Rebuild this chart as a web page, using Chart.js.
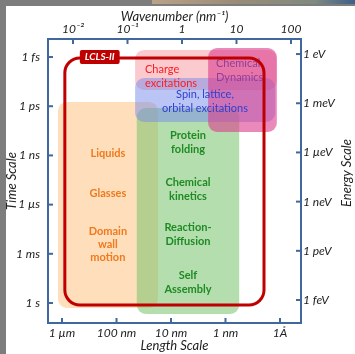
<!DOCTYPE html>
<html>
<head>
<meta charset="utf-8">
<script src="https://cdn.jsdelivr.net/npm/chart.js@4"></script>
<style>
  html, body { margin: 0; padding: 0; background: #fff; }
  #wrap { position: relative; width: 355px; height: 354px; overflow: hidden; }
  canvas { position: absolute; left: 0; top: 0; }
  .edge-left { position: absolute; left: 0; top: 0; width: 6px; height: 354px; background: #7d7d7d; }
  .edge-top { position: absolute; left: 0; top: 0; width: 355px; height: 6px; background: #7d7d7d; }
  .edge-photo { position: absolute; left: 152px; top: 0; width: 203px; height: 4px;
    background: linear-gradient(90deg, #b9a288, #9c8c78 40%, #7f8a80 80%, #3e5f8a); }
</style>
</head>
<body>
<div id="wrap">
  <canvas id="chart" width="355" height="354"></canvas>
  <div class="edge-left"></div>
  <div class="edge-top"></div>
  <div class="edge-photo"></div>
</div>
<script>
// Both axes are in decades: x = log10(q / nm^-1), y = log10(t / s)
const X_RANGE = [-2.459, 2.184];
const Y_RANGE = [-16.1, 1.22];

const wavenumberTicks = [-2, -1, 0, 1, 2];
const wavenumberLabels = ["10\u207B\u00B2", "10\u207B\u00B9", "1", "10", "100"];
const lengthNm = [1000, 100, 10, 1, 0.1];
const lengthLabels = ["1 \u00B5m", "100 nm", "10 nm", "1 nm", "1\u00C5"];
const timeTicks = [-15, -12, -9, -6, -3, 0];
const timeLabels = ["1 fs", "1 ps", "1 ns", "1 \u00B5s", "1 ms", "1 s"];
const energyEv = [1, 1e-3, 1e-6, 1e-9, 1e-12, 1e-15];
const energyLabels = ["1 eV", "1 meV", "1 \u00B5eV", "1 neV", "1 peV", "1 feV"];
const HBAR = 6.582e-16; // eV s

// science regions: wavenumber span and time span, in decades
const regionNames = ["soft matter", "biology", "charge", "spin", "chemistry"];
const regionQ = [[-2.275, -0.44], [-0.83, 1.05], [-0.86, 1.74], [-0.86, 1.71], [0.48, 1.74]];
const regionT = [[-12.26, 0.3], [-11.89, 0.67], [-15.43, -12.99], [-13.72, -11.04], [-15.55, -10.43]];

// LCLS-II reach
const lclsQ = [-2.15, 1.505];
const lclsT = [-14.94, 0.12];

const labelText = [
  ["Liquids"], ["Glasses"], ["Domain", "wall", "motion"],
  ["Protein", "folding"], ["Chemical", "kinetics"], ["Reaction-", "Diffusion"], ["Self", "Assembly"],
  ["Charge", "excitations"], ["Chemical", "Dynamics"], ["Spin, lattice,", "orbital excitations"],
];
const labelQ = [-1.36, -1.36, -1.36, 0.11, 0.11, 0.11, 0.11, -0.679, 0.624, 0.422];
const labelT = [-9.09, -6.71, -3.54, -9.82, -6.95, -4.15, -1.25, -13.84, -14.21, -12.32];
const labelRegion = [0, 0, 0, 1, 1, 1, 1, 2, 4, 3];

const AXIS = "#41679f";
const FONT = "Lato";
const regionFill = [
  "rgba(253, 190, 120, 0.5)",
  "rgba(120, 195, 110, 0.55)",
  "rgba(248, 150, 160, 0.5)",
  "rgba(120, 140, 235, 0.5)",
  "rgba(220, 60, 140, 0.6)",
];
const regionText = ["#f07a1e", "#1f8b24", "#ff1a1a", "#2d3fd0", "#8e3f9e"];
const regionWeight = ["bold", "bold", "normal", "normal", "normal"];
const regionAlign = ["center", "center", "left", "center", "left"];
const regionLine = [13, 14, 14, 14, 14];

function fixedTicks(values) {
  return (scale) => {
    scale.ticks = values.map((value) => ({ value }));
  };
}

function axis(position, range, values, labels, size, extra) {
  const vertical = position === "left" || position === "right";
  return {
    type: "linear",
    position,
    min: range[0],
    max: range[1],
    bounds: "data",
    reverse: vertical,
    afterBuildTicks: fixedTicks(values),
    afterFit: (scale) => {
      if (vertical) scale.width = size;
      else scale.height = size;
    },
    grid: { display: false, drawTicks: false },
    border: { display: true, color: AXIS, width: 2 },
    ticks: {
      autoSkip: false,
      maxRotation: 0,
      color: "#222",
      font: { family: FONT, size: 12, style: "italic" },
      callback: (value, index) => labels[index],
      ...extra.ticks,
    },
    title: {
      display: true,
      color: "#222",
      font: { family: FONT, size: 13, style: "italic" },
      ...extra.title,
    },
  };
}

const tickMarks = {
  id: "tickMarks",
  afterDraw(chart) {
    const { ctx, chartArea: a } = chart;
    ctx.save();
    ctx.strokeStyle = AXIS;
    ctx.lineWidth = 2;
    for (const scale of Object.values(chart.scales)) {
      for (const tick of scale.ticks) {
        const p = scale.getPixelForValue(tick.value);
        ctx.beginPath();
        if (scale.position === "bottom") { ctx.moveTo(p, a.bottom); ctx.lineTo(p, a.bottom - 5); }
        if (scale.position === "top") { ctx.moveTo(p, a.top); ctx.lineTo(p, a.top + 5); }
        if (scale.position === "left") { ctx.moveTo(a.left, p); ctx.lineTo(a.left + 5, p); }
        if (scale.position === "right") { ctx.moveTo(a.right, p); ctx.lineTo(a.right - 5, p); }
        ctx.stroke();
      }
    }

    // right axis title reads bottom-to-top, like the left one
    const r = chart.scales.yRight;
    ctx.translate(r.right - 8, (a.top + a.bottom) / 2 - 8);
    ctx.rotate(-Math.PI / 2);
    ctx.fillStyle = "#222";
    ctx.font = `italic 13px ${FONT}`;
    ctx.textAlign = "center";
    ctx.textBaseline = "middle";
    ctx.fillText("Energy Scale", 0, 0);
    ctx.restore();
  },
};

function boxPixels(chart, q, t) {
  const { x, y } = chart.scales;
  const x0 = x.getPixelForValue(q[0]);
  const x1 = x.getPixelForValue(q[1]);
  const y0 = y.getPixelForValue(t[0]);
  const y1 = y.getPixelForValue(t[1]);
  return { left: x0, top: y0, width: x1 - x0, height: y1 - y0 };
}

const regions = {
  id: "regions",
  afterDatasetsDraw(chart) {
    const { ctx } = chart;
    const { x, y } = chart.scales;
    ctx.save();

    regionNames.forEach((name, i) => {
      const b = boxPixels(chart, regionQ[i], regionT[i]);
      ctx.fillStyle = regionFill[i];
      ctx.beginPath();
      ctx.roundRect(b.left, b.top, b.width, b.height, 9);
      ctx.fill();
    });

    ctx.textBaseline = "middle";
    labelText.forEach((lines, i) => {
      const r = labelRegion[i];
      const px = x.getPixelForValue(labelQ[i]);
      const py = y.getPixelForValue(labelT[i]);
      const lh = regionLine[r];
      ctx.font = `${regionWeight[r]} 11px ${FONT}`;
      ctx.fillStyle = regionText[r];
      ctx.textAlign = regionAlign[r];
      lines.forEach((line, k) => {
        ctx.fillText(line, px, py + (k - (lines.length - 1) / 2) * lh);
      });
    });

    // LCLS-II frame and tag
    const f = boxPixels(chart, lclsQ, lclsT);
    ctx.strokeStyle = "#c00000";
    ctx.lineWidth = 3;
    ctx.beginPath();
    ctx.roundRect(f.left, f.top, f.width, f.height, 15);
    ctx.stroke();

    ctx.font = `italic bold 10px ${FONT}`;
    const tag = "LCLS-II";
    const tw = ctx.measureText(tag).width + 10;
    const tx = f.left + 15;
    ctx.fillStyle = "#c00000";
    ctx.beginPath();
    ctx.roundRect(tx, f.top - 8, tw, 14, 2);
    ctx.fill();
    ctx.fillStyle = "#fff";
    ctx.textAlign = "center";
    ctx.fillText(tag, tx + tw / 2, f.top - 1);
    ctx.restore();
  },
};

new Chart(document.getElementById("chart"), {
  type: "scatter",
  data: { datasets: [] },
  options: {
    responsive: false,
    animation: false,
    layout: { padding: 0 },
    plugins: { legend: { display: false }, tooltip: { enabled: false } },
    scales: {
      x: axis("bottom", X_RANGE, lengthNm.map((l) => Math.log10((2 * Math.PI) / l)), lengthLabels, 31, {
        ticks: { padding: 3 },
        title: { text: "Length Scale", padding: { top: 0, bottom: 0 } },
      }),
      xTop: axis("top", X_RANGE, wavenumberTicks, wavenumberLabels, 39, {
        ticks: { padding: 3 },
        title: { text: "Wavenumber (nm\u207B\u00B9)", padding: { top: 9, bottom: 0 } },
      }),
      y: axis("left", Y_RANGE, timeTicks, timeLabels, 48, {
        ticks: { padding: 8 },
        title: { text: "Time Scale", padding: { top: 4, bottom: 0 } },
      }),
      yRight: axis("right", Y_RANGE, energyEv.map((e) => Math.log10(HBAR / e)), energyLabels, 54, {
        ticks: { padding: 2 },
        title: { display: false },
      }),
    },
  },
  plugins: [regions, tickMarks],
});
</script>
</body>
</html>
